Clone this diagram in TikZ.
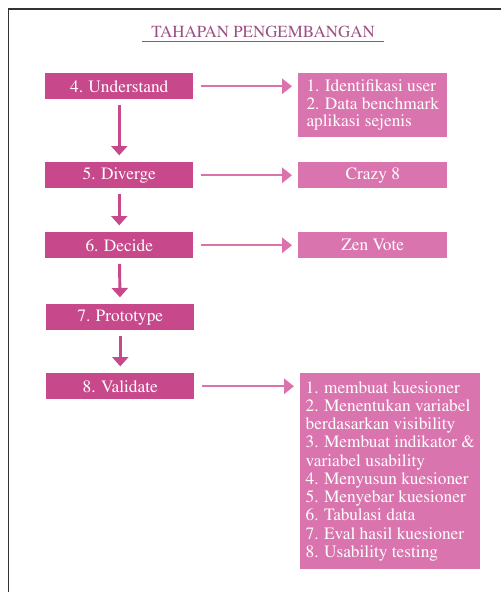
\documentclass[tikz,border=0pt]{standalone}
\usepackage[T1]{fontenc}
\usepackage{times}
\usetikzlibrary{arrows.meta,positioning}

\definecolor{stagepink}{HTML}{C8488C}
\definecolor{notepink}{HTML}{DA74AE}
\definecolor{arrowpink}{HTML}{DC72AC}
\definecolor{titleplum}{HTML}{9B4F83}

\begin{document}
\begin{tikzpicture}[x=0.75pt,y=-0.75pt,
  stage/.style={fill=stagepink,text=white,minimum width=111pt,minimum height=19.5pt,
    inner sep=0pt,anchor=north west,font=\fontsize{13}{13.2}\selectfont},
  note/.style={fill=notepink,text=white,minimum width=111.75pt,minimum height=19.5pt,
    inner sep=0pt,anchor=north west,align=left,font=\fontsize{13}{13.2}\selectfont},
  down arrow/.style={-{Triangle[width=12pt,length=7pt]},color=stagepink,line width=2.2pt,
    shorten <=4pt,shorten >=5pt},
  side arrow/.style={-{Triangle[width=11.5pt,length=7.5pt]},color=arrowpink,line width=1.6pt,
    shorten <=5.25pt,shorten >=4.5pt}]

  \useasboundingbox (0,0) rectangle (501,592);

  % frame of the slide
  \draw[line width=0.9pt,black!80] (8.5,592) -- (8.5,9) -- (501,9);

  % title
  \node[text=titleplum,anchor=base,inner xsep=7pt,inner ysep=2.25pt,
    font=\fontsize{12.7}{14}\selectfont] (title) at (263,38) {TAHAPAN PENGEMBANGAN};
  \draw[titleplum,line width=0.8pt] (title.south west) -- (title.south east);

  % stages
  \node[stage] (und) at (45,73) {4. Understand};
  \node[stage] (div) at (45,162) {5. Diverge};
  \node[stage] (dec) at (45,232) {6. Decide};
  \node[stage] (pro) at (46,304) {7. Prototype};
  \node[stage] (val) at (46,373) {8. Validate};

  % activities
  \node[note,minimum height=48pt] (undr) at (298,73)
    {1. Identifikasi user\\2. Data benchmark\\aplikasi sejenis};
  \node[note,align=center] (cra) at (298,162) {Crazy 8};
  \node[note,align=center] (zen) at (298,232) {Zen Vote};
  \node[note,minimum width=135pt,minimum height=147pt,
    font=\fontsize{13}{13.7}\selectfont] (valr) at (300,373)
    {1. membuat kuesioner\\2. Menentukan variabel\\berdasarkan visibility\\
     3. Membuat indikator \&\\variabel usability\\4. Menyusun kuesioner\\
     5. Menyebar kuesioner\\6. Tabulasi data\\7. Eval hasil kuesioner\\
     8. Usability testing};

  \draw[down arrow] (und) -- (div);
  \draw[down arrow] (div) -- (dec);
  \draw[down arrow] (dec) -- (pro);
  \draw[down arrow] (pro) -- (val);

  \draw[side arrow] (und.east) -- (und.east -| undr.west);
  \draw[side arrow] (div.east) -- (cra.west);
  \draw[side arrow] (dec.east) -- (zen.west);
  \draw[side arrow] (val.east) -- (val.east -| valr.west);

\end{tikzpicture}
\end{document}
